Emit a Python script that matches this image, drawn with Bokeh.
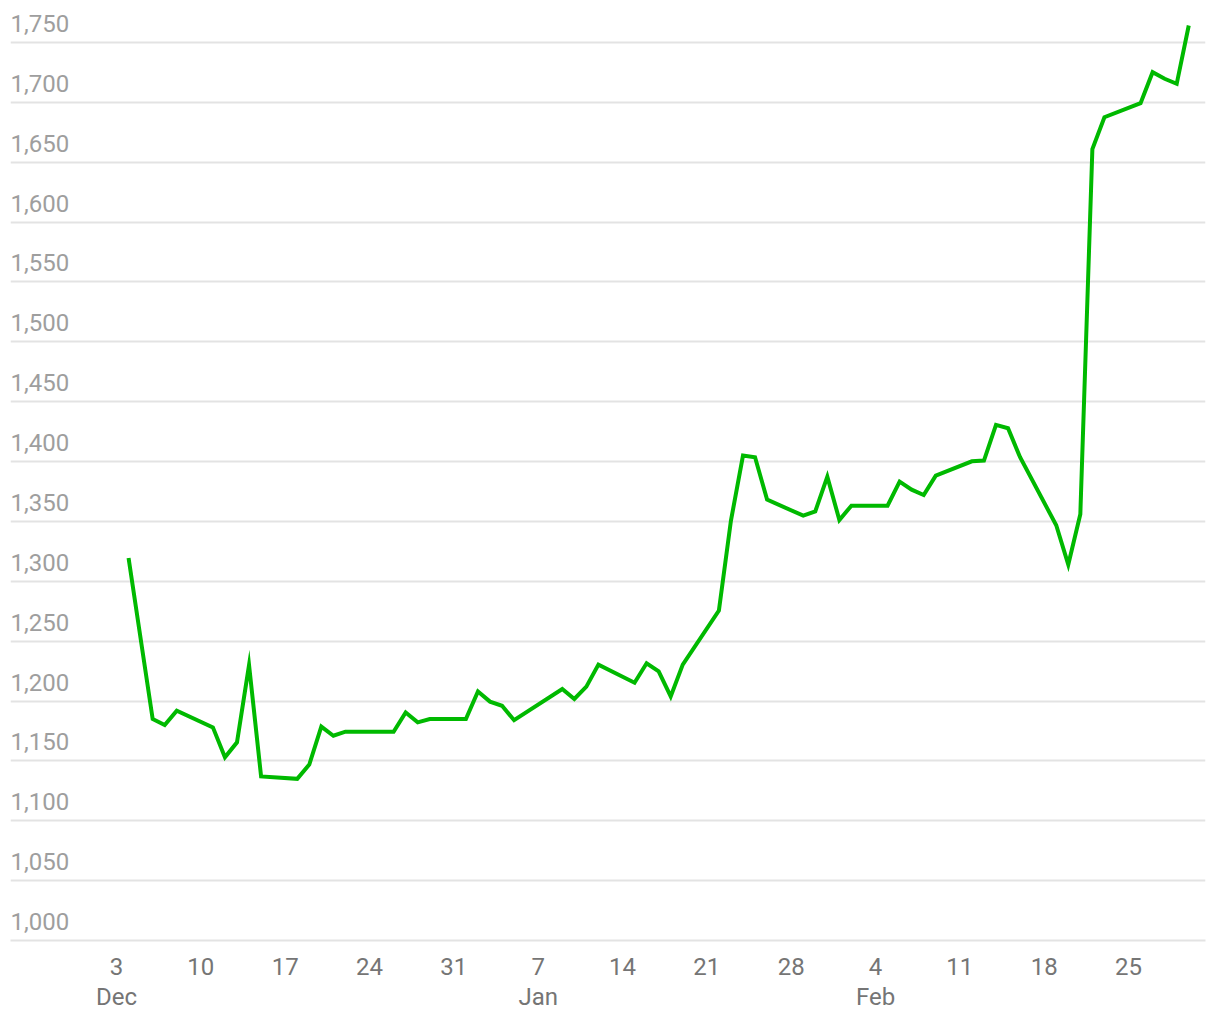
import pandas as pd
from bokeh.plotting import figure
from bokeh.models import Range1d, FixedTicker, LinearAxis
from bokeh.core.properties import value
from bokeh.embed import file_html
from bokeh.resources import INLINE

# ---- data ----
dates = [
    "2023-12-04", "2023-12-06", "2023-12-07", "2023-12-08", "2023-12-11", "2023-12-12",
    "2023-12-13", "2023-12-14", "2023-12-15", "2023-12-18", "2023-12-19", "2023-12-20",
    "2023-12-21", "2023-12-22", "2023-12-26", "2023-12-27", "2023-12-28", "2023-12-29",
    "2024-01-01", "2024-01-02", "2024-01-03", "2024-01-04", "2024-01-05", "2024-01-09",
    "2024-01-10", "2024-01-11", "2024-01-12", "2024-01-15", "2024-01-16", "2024-01-17",
    "2024-01-18", "2024-01-19", "2024-01-22", "2024-01-23", "2024-01-24", "2024-01-25",
    "2024-01-26", "2024-01-29", "2024-01-30", "2024-01-31", "2024-02-01", "2024-02-02",
    "2024-02-05", "2024-02-06", "2024-02-07", "2024-02-08", "2024-02-09", "2024-02-12",
    "2024-02-13", "2024-02-14", "2024-02-15", "2024-02-16", "2024-02-19", "2024-02-20",
    "2024-02-21", "2024-02-22", "2024-02-23", "2024-02-26", "2024-02-27", "2024-02-28",
    "2024-02-29", "2024-03-01",
]
prices = [
    1319.5, 1185.0, 1180.0, 1192.0, 1178.0, 1153.0,
    1165.5, 1230.0, 1137.0, 1135.0, 1147.0, 1178.6,
    1171.0, 1174.4, 1174.4, 1190.5, 1182.2, 1185.0,
    1185.0, 1208.0, 1199.5, 1196.0, 1184.0, 1210.0,
    1201.7, 1212.0, 1230.4, 1215.3, 1231.5, 1224.8,
    1203.9, 1230.4, 1275.5, 1350.7, 1405.0, 1403.6,
    1368.2, 1354.8, 1358.4, 1387.4, 1351.2, 1363.2,
    1363.2, 1383.3, 1376.5, 1372.1, 1388.3, 1400.2,
    1400.8, 1430.6, 1427.8, 1403.6, 1346.8, 1314.0,
    1356.0, 1661.0, 1687.6, 1699.3, 1725.2, 1719.7,
    1715.5, 1764.2,
]
origin = "2023-12-03"
tick_dates = ["2023-12-03", "2023-12-10", "2023-12-17", "2023-12-24", "2023-12-31",
              "2024-01-07", "2024-01-14", "2024-01-21", "2024-01-28", "2024-02-04",
              "2024-02-11", "2024-02-18", "2024-02-25"]
day_labels = ["3", "10", "17", "24", "31", "7", "14", "21", "28", "4", "11", "18", "25"]
month_dates = ["2023-12-03", "2024-01-07", "2024-02-04"]
month_labels = ["Dec", "Jan", "Feb"]
y_ticks = [1000, 1050, 1100, 1150, 1200, 1250, 1300, 1350, 1400, 1450, 1500, 1550, 1600, 1650, 1700, 1750]
y_labels = ["1,000", "1,050", "1,100", "1,150", "1,200", "1,250", "1,300", "1,350", "1,400",
            "1,450", "1,500", "1,550", "1,600", "1,650", "1,700", "1,750"]

# ---- helpers ----
t0 = pd.Timestamp(origin)
def day_num(ds):
    return [(pd.Timestamp(d) - t0).days for d in ds]

xs = day_num(dates)
tick_x = day_num(tick_dates)
month_x = day_num(month_dates)

FONT = "Roboto"
GRID = "#e3e3e3"

x0, x1 = -8.8, 90.39
p = figure(width=1212, height=1018, output_backend="svg", toolbar_location=None,
           x_range=Range1d(x0, x1), y_range=Range1d(1000, 1775.06),
           min_border_left=10, min_border_right=7, min_border_top=12, min_border_bottom=78)
p.outline_line_color = None
p.background_fill_color = "white"
p.border_fill_color = "white"

# grid
p.xgrid.visible = False
p.ygrid.ticker = FixedTicker(ticks=y_ticks)
p.ygrid.grid_line_color = GRID
p.ygrid.grid_line_width = 2
p.yaxis.visible = False

# day axis
xa = p.xaxis[0]
xa.ticker = FixedTicker(ticks=tick_x)
xa.major_label_overrides = {t: l for t, l in zip(tick_x, day_labels)}
xa.axis_line_color = GRID
xa.axis_line_width = 2
xa.major_tick_line_color = None
xa.minor_tick_line_color = None
xa.major_tick_out = 0
xa.major_tick_in = 0
xa.major_label_standoff = 17
xa.major_label_text_font = FONT
xa.major_label_text_font_size = "24px"
xa.major_label_text_color = "#757575"

# month axis
ma = LinearAxis(ticker=FixedTicker(ticks=month_x))
ma.major_label_overrides = {t: l for t, l in zip(month_x, month_labels)}
ma.axis_line_color = None
ma.major_tick_line_color = None
ma.minor_tick_line_color = None
ma.major_tick_out = 0
ma.major_tick_in = 0
ma.major_label_standoff = 5
ma.major_label_text_font = FONT
ma.major_label_text_font_size = "24px"
ma.major_label_text_color = "#757575"
p.add_layout(ma, "below")

# y labels inside plot
p.text(x=[x0] * len(y_ticks), y=y_ticks, text=y_labels,
       text_font=value(FONT), text_font_size="24px", text_color="#9e9e9e",
       text_align="left", text_baseline="alphabetic", y_offset=-19)

# price line
p.line(xs, prices, line_color="#00b900", line_width=4, line_join="miter")

open("out.html", "w").write(file_html(p, INLINE))
